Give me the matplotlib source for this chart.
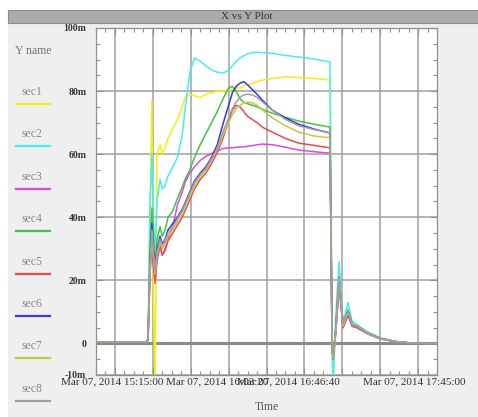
import matplotlib
matplotlib.use('Agg')
import matplotlib.pyplot as plt
import matplotlib.transforms as mtransforms
from matplotlib.lines import Line2D
from matplotlib.patches import Rectangle
from matplotlib.ticker import MultipleLocator

# sample times, minutes after the first grid line
t = [-10, 0, 10, 17, 17.5, 18.5, 19.5, 20.2, 21.2, 22.2, 23.8, 25, 26.5, 28, 30.5, 33,
     35.5, 37, 39.5, 42, 45, 48, 51, 54, 57, 60, 62, 64, 66, 68, 70, 72.5, 75, 78, 83,
     90, 97, 105, 113.5, 114.1, 114.6, 115.1, 116.5, 118.3, 120.4, 123, 125.2, 127.8,
     133, 140, 149, 157, 170]

sec1 = [0.6, 0.5, 0.5, 0.5, 2, 40, 77, 20, -14, 60, 63, 60, 62, 65, 68, 71,
        75, 78, 79, 78.5, 78, 79, 79.5, 80, 80, 80.3, 80.5, 81, 81, 81.5, 82, 82.5, 83, 83.5, 84,
        84.5, 84.3, 84, 83.5, 40, 0, -14, 5, 22, 6, 11, 6.5, 5.5,
        3.5, 1.6, 0.5, 0.1, 0]
sec2 = [0.5, 0.5, 0.5, 0.5, 2, 45, 60, 40, 30, 45, 52, 49, 50, 53, 56, 59,
        66, 74, 86, 90.5, 89.5, 88, 86.7, 86, 85.7, 86.5, 88, 89.5, 90.5, 91.2, 91.8, 92.2, 92.3, 92.2, 92,
        91.3, 90.8, 90.2, 89.2, 45, 0, -14, 8, 26, 7, 13, 7, 6,
        3.8, 1.8, 0.6, 0.1, 0]
sec3 = [0.5, 0.5, 0.5, 0.5, 2, 22, 33, 25, 19, 26, 31, 28, 30, 33, 37, 44,
        48, 51, 54, 56, 58, 59.3, 60.2, 61, 61.8, 62, 62, 62.2, 62.3, 62.3, 62.5, 62.7, 63, 63.2, 63,
        62.2, 61.3, 60.8, 60.3, 29, 0, -5, 3, 18, 5, 9, 5.5, 5,
        3.1, 1.4, 0.5, 0.1, 0]
sec4 = [0.5, 0.5, 0.5, 0.5, 2, 30, 43, 35, 25, 33, 37, 34, 36, 40, 42, 46,
        49.5, 52, 55, 59, 63, 66.5, 70, 73.5, 77.5, 81, 81.5, 80, 77.5, 76.5, 76, 75.5, 75, 74.2, 73,
        71.7, 70.5, 69.5, 68.6, 35, 0, -4, 4, 20, 6, 10, 6, 5.5,
        3.4, 1.6, 0.5, 0.1, 0]
sec5 = [0.5, 0.5, 0.5, 0.5, 2, 22, 33, 26, 20, 27, 31, 28, 29.5, 32.5, 35, 37.5,
        40, 42, 45.5, 49, 52, 54, 57, 60.5, 65, 70.5, 74, 75.5, 75, 73.5, 72, 71, 70, 68.5, 67,
        65, 63.5, 62.8, 62, 30, 0, -5, 3, 19, 5, 9, 5.5, 5,
        3.2, 1.5, 0.5, 0.1, 0]
sec6 = [0.5, 0.5, 0.5, 0.5, 2, 25, 38, 30, 24, 30, 34, 31.5, 33, 36, 38, 40,
        42.5, 44.5, 48, 51.5, 54, 56, 59, 63, 69.5, 75.5, 79.5, 81.5, 82.5, 83, 82, 80.5, 79, 77, 74,
        71.5, 69.5, 68, 66.7, 34, 0, -5, 4, 21, 6, 10.5, 6, 5.5,
        3.4, 1.6, 0.5, 0.1, 0]
sec7 = [0.5, 0.5, 0.5, 0.5, 2, 23, 35, 28, 22, 28, 32, 30, 31.5, 34, 36, 38.5,
        41, 43, 46.5, 50, 53, 55, 58, 61.5, 66, 70, 72.5, 74.5, 75.5, 76.2, 76.5, 76.3, 75.5, 74, 71.5,
        69, 67, 65.8, 65.2, 32, 0, -5, 3, 20, 5.5, 10, 6, 5.5,
        3.3, 1.5, 0.5, 0.1, 0]
sec8 = [0.5, 0.5, 0.5, 0.5, 2, 24, 36, 29, 23, 29, 33, 31, 32.5, 35, 37, 39.5,
        42, 44, 47.5, 51, 53.5, 55.5, 58.5, 62, 67, 71.5, 74.5, 76.5, 78, 78.8, 79, 78.8, 78, 76.5, 74,
        71, 69, 67.8, 66.8, 33, 0, -5, 4, 21, 6, 10.5, 6, 5.5,
        3.4, 1.6, 0.5, 0.1, 0]

names = ['sec1', 'sec2', 'sec3', 'sec4', 'sec5', 'sec6', 'sec7', 'sec8']
colors = ['#f2ee10', '#45eef0', '#e048e0', '#48c048', '#f04848', '#3838e0', '#c8c848', '#a0a0a0']
series = [sec1, sec2, sec3, sec4, sec5, sec6, sec7, sec8]

y_ticks = [-10, 0, 20, 40, 60, 80, 100]
y_labels = ['-10m', '0', '20m', '40m', '60m', '80m', '100m']
x_label_pos = [-1.5, 54, 91.4, 158]
x_labels = ['Mar 07, 2014 15:15:00', 'Mar 07, 2014 16:03:20',
            'Mar 07, 2014 16:46:40', 'Mar 07, 2014 17:45:00']

W, H = 478, 417
serif = 'Liberation Serif'

fig = plt.figure(figsize=(W / 100, H / 100), dpi=100, facecolor='white')
fig.patches.append(Rectangle((8 / W, 0), 1, 1 - 10 / H, transform=fig.transFigure,
                             facecolor='#efefef', edgecolor='none', zorder=-10))
fig.patches.append(Rectangle((8 / W, 1 - 23 / H), 1, 13 / H, transform=fig.transFigure,
                             facecolor='#ababab', edgecolor='#8c8c8c', lw=0.8, zorder=-5))
fig.text(247 / W, 1 - 16.5 / H, 'X vs Y Plot', ha='center', va='center',
         fontsize=8, family=serif, color='#333333')

ax = fig.add_axes([96 / W, 42 / H, 341 / W, 347 / H])
ax.set_facecolor('white')

for vals, c in zip(series, colors):
    ax.plot(t, vals, color=c, lw=1.1, zorder=3)

# zero reference line
ax.axhline(0, color='#8a8a8a', lw=2.2, zorder=2)

ax.set_xlim(-10, 170)
ax.set_ylim(-10, 100)
ax.set_xticks(range(0, 161, 20))
ax.set_xticklabels([])
ax.xaxis.set_minor_locator(MultipleLocator(5))
ax.set_yticks(y_ticks)
ax.set_yticklabels(y_labels, family=serif, fontsize=7, fontweight='bold', color='#333333')
ax.yaxis.set_minor_locator(MultipleLocator(5))
ax.tick_params(which='both', direction='in', top=True, right=True, color='#909090')
ax.tick_params(which='major', length=5, width=0.8, pad=7)
ax.tick_params(which='minor', length=3, width=0.8)
ax.grid(True, which='major', color='#a0a0a0', lw=1.1, zorder=1)
for s in ax.spines.values():
    s.set_color('#909090')
    s.set_linewidth(0.9)

trans = mtransforms.blended_transform_factory(ax.transData, ax.transAxes)
for xp, lab in zip(x_label_pos, x_labels):
    ax.text(xp, -0.006, lab, transform=trans, ha='center', va='top', fontsize=8,
            family=serif, color='#333333', clip_on=False)
ax.set_xlabel('Time', family=serif, fontsize=8.5, color='#555555', labelpad=12)

# series legend on the left
fig.text(15 / W, 1 - 51 / H, 'Y name', va='center', fontsize=8.5, family=serif, color='#707070')
for i, (name, c) in enumerate(zip(names, colors)):
    ty = 92 + 42.4 * i
    ly = 104 + 42.4 * i
    fig.text(21 / W, 1 - ty / H, name, va='center', fontsize=8.5, family=serif, color='#888888')
    fig.add_artist(Line2D([16 / W, 50 / W], [1 - ly / H] * 2, transform=fig.transFigure,
                          color=c, lw=1.6))

fig.savefig('out.png', dpi=100, facecolor=fig.get_facecolor())
